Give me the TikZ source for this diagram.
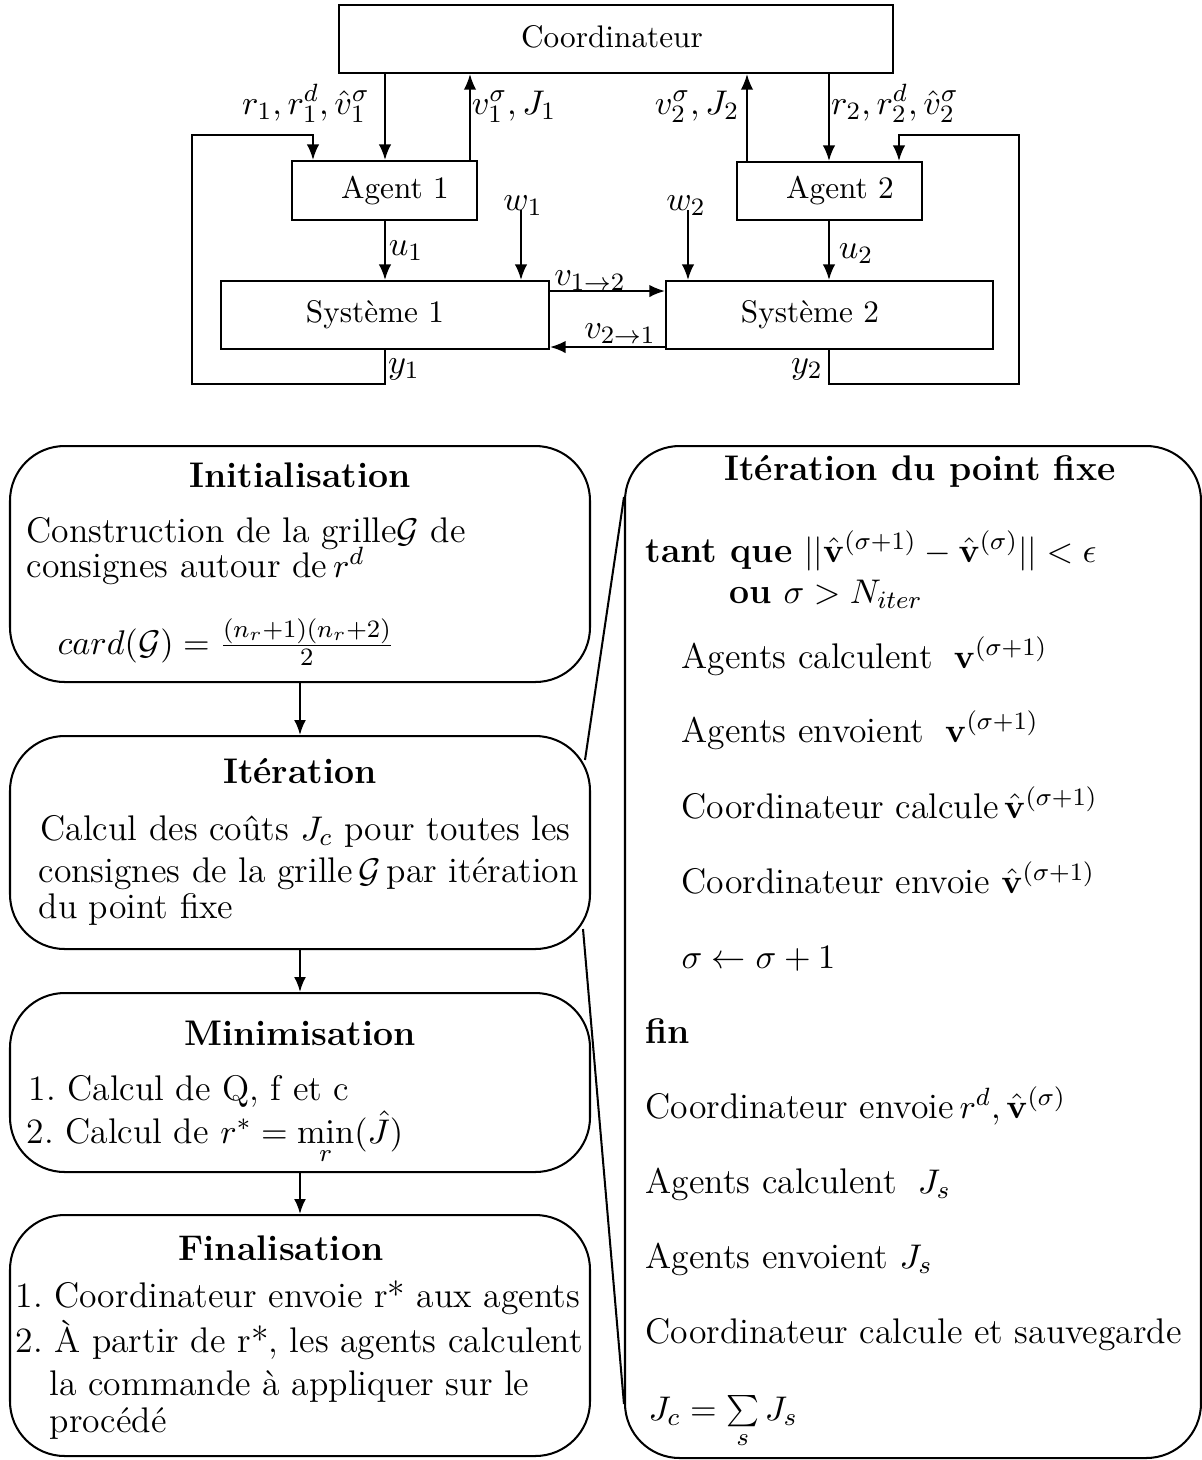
\documentclass[tikz,border=0pt]{standalone}
\usetikzlibrary{arrows.meta,fit,calc}
\begin{document}
\begin{tikzpicture}[x=0.32pt,y=-0.32pt,
  ln/.style={line width=0.65pt},
  arr/.style={ln,-{Latex[length=5pt,width=4pt]}},
  arrb/.style={ln,-{Latex[length=4.8pt,width=3.8pt]}},
  blk/.style={draw,ln,inner sep=0pt},
  rbox/.style={draw,ln,inner sep=0pt,rounded corners=17.5pt},
  lab/.style={inner sep=0pt,anchor=base},
  mlab/.style={inner sep=0pt,anchor=base,font=\fontsize{10.8}{13}\selectfont},
  bt/.style={inner sep=0pt,anchor=base west,font=\fontsize{11.4}{13.8}\selectfont\frenchspacing},
  ttl/.style={inner sep=0pt,anchor=base,font=\fontsize{11.4}{13.8}\selectfont\bfseries},
]
\useasboundingbox (0,0) rectangle (1202,1460);

% ---------- top diagram ----------
\node[blk, fit={(339,5)(893,73)}] (coord) {};
\node[blk, fit={(292,161)(477,220)}] (agent1) {};
\node[blk, fit={(737,162)(922,220)}] (agent2) {};
\node[blk, fit={(221,281)(549,349)}] (sys1) {};
\node[blk, fit={(666,281)(993,349)}] (sys2) {};

\node[lab] (tcoord) at (612,47) {Coordinateur};
\node[lab] (ta1) at (395,198) {Agent 1};
\node[lab] (ta2) at (840,198) {Agent 2};
\node[lab] (ts1) at (375,322) {Système 1};
\node[lab] (ts2) at (810,322) {Système 2};

\coordinate (c1) at (385,0);
\coordinate (c2) at (470,0);
\coordinate (c3) at (521,0);
\coordinate (c4) at (688,0);
\coordinate (c5) at (747,0);
\coordinate (c6) at (829,0);
\coordinate (c7) at (313,0);
\coordinate (c8) at (899,0);
\coordinate (r1) at (0,291);
\coordinate (r2) at (0,347);
\coordinate (fa) at (192,384);
\coordinate (fb) at (192,135);
\coordinate (ga) at (1019,384);
\coordinate (gb) at (1019,135);

\draw[arr] (coord.south -| c1) -- (agent1.north -| c1);
\draw[arr] (agent1.north -| c2) -- (coord.south -| c2);
\draw[arr] (agent1.south -| c1) -- (sys1.north -| c1);
\draw[arr] (coord.south -| c6) -- (agent2.north -| c6);
\draw[arr] (agent2.north -| c5) -- (coord.south -| c5);
\draw[arr] (agent2.south -| c6) -- (sys2.north -| c6);
\draw[arr] (sys1.east |- r1) -- (sys2.west |- r1);
\draw[arr] (sys2.west |- r2) -- (sys1.east |- r2);
\draw[arr] (sys1.south -| c1) |- (fa) -- (fb) -| (agent1.north -| c7);
\draw[arr] (sys2.south -| c6) |- (ga) -- (gb) -| (agent2.north -| c8);

\node[mlab] (l1) at (306,114) {$r_1, r^d_1, \hat{v}^\sigma_1$};
\node[mlab] (l2) at (514,114) {$v^\sigma_1, J_1$};
\node[mlab] (l3) at (697,114) {$v^\sigma_2, J_2$};
\node[mlab] (l4) at (895,114) {$r_2, r^d_2, \hat{v}^\sigma_2$};
\node[mlab] (u1) at (406,255) {$u_1$};
\node[mlab] (u2) at (856,258) {$u_2$};
\node[mlab] (y1) at (404,373) {$y_1$};
\node[mlab] (y2) at (807,373) {$y_2$};
\node[mlab] (v12) at (590,285) {$v_{1\to 2}$};
\node[mlab] (v21) at (620,338) {$v_{2\to 1}$};
\node[mlab] (w1) at (523,210) {$w_1$};
\node[mlab] (w2) at (686,210) {$w_2$};
\draw[arr] (w1.base -| c3) -- (sys1.north -| c3);
\draw[arr] (w2.base -| c4) -- (sys2.north -| c4);

% ---------- bottom flow ----------
\node[rbox, fit={(10,446)(590,682)}] (init) {};
\node[rbox, fit={(10,736)(590,949)}] (it) {};
\node[rbox, fit={(10,993)(590,1172)}] (min) {};
\node[rbox, fit={(10,1215)(590,1456)}] (fin) {};
\node[rbox, fit={(625,446)(1201,1458)}] (fp) {};

\draw[arrb] (init.south) -- (it.north);
\draw[arrb] (it.south) -- (min.north);
\draw[arrb] (min.south) -- (fin.north);
\draw[ln] ([shift={(-6,25)}]it.north east) -- ([shift={(0,52)}]fp.north west);
\draw[ln] ([shift={(-8,-21)}]it.south east) -- ([shift={(0,-55)}]fp.south west);

\node[ttl] (tinit) at (300,487) {Initialisation};
\node[bt] (i1) at (26,542) {Construction de la grille$\mathcal{G}$ de};
\node[bt] (i2) at (26,577) {consignes autour de$\,r^d$};
\node[bt] (i3) at (57,654) {$card(\mathcal{G}) = \frac{(n_r+1)(n_r+2)}{2}$};

\node[ttl] (tit) at (300,783) {Itération};
\node[bt] (t1) at (40,840) {Calcul des coûts $J_c$ pour toutes les};
\node[bt] (t2) at (38,882) {consignes de la grille$\,\mathcal{G}\,$par itération};
\node[bt] (t3) at (38,918) {du point fixe};

\node[ttl] (tmin) at (300,1045) {Minimisation};
\node[bt] (m1) at (28,1100) {1. Calcul de Q, f et c};
\node[bt] (m2) at (26,1143) {2. Calcul de $r^* = \min\limits_r(\hat{J})$};

\node[ttl] (tfin) at (281,1260) {Finalisation};
\node[bt] (f1) at (15,1307) {1. Coordinateur envoie r* aux agents};
\node[bt] (f2) at (15,1352) {2. À partir de r*, les agents calculent};
\node[bt] (f3) at (49,1395) {la commande à appliquer sur le};
\node[bt] (f4) at (49,1432) {procédé};

\node[ttl] (tfp) at (920,480) {Itération du point fixe};
\node[bt] (p1) at (645,562) {\textbf{tant que} $||\hat{\mathbf{v}}^{(\sigma+1)} - \hat{\mathbf{v}}^{(\sigma)}|| < \epsilon$};
\node[bt] (p2) at (729,603) {\textbf{ou} $\sigma > N_{iter}$};
\node[bt] (p3) at (681,668) {Agents calculent $\;\mathbf{v}^{(\sigma+1)}$};
\node[bt] (p4) at (681,742) {Agents envoient $\;\mathbf{v}^{(\sigma+1)}$};
\node[bt] (p5) at (681,818) {Coordinateur calcule$\,\hat{\mathbf{v}}^{(\sigma+1)}$};
\node[bt] (p6) at (681,893) {Coordinateur envoie $\hat{\mathbf{v}}^{(\sigma+1)}$};
\node[bt] (p7) at (681,968) {$\sigma \leftarrow \sigma + 1$};
\node[bt] (p8) at (645,1043) {\textbf{fin}};
\node[bt] (p9) at (645,1118) {Coordinateur envoie$\,r^d, \hat{\mathbf{v}}^{(\sigma)}$};
\node[bt] (p10) at (645,1193) {Agents calculent $\;J_s$};
\node[bt] (p11) at (645,1268) {Agents envoient $J_s$};
\node[bt] (p12) at (645,1343) {Coordinateur calcule et sauvegarde};
\node[bt] (p13) at (648,1420) {$J_c = \sum\limits_s J_s$};
\end{tikzpicture}
\end{document}
